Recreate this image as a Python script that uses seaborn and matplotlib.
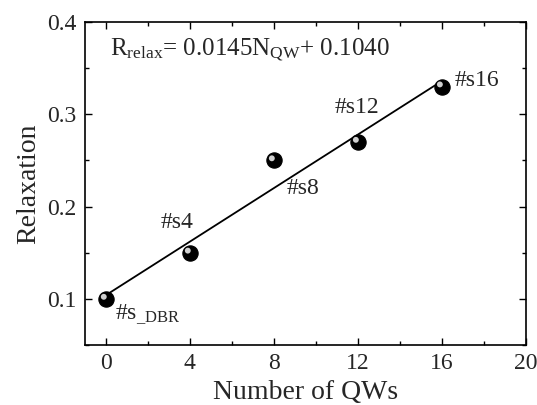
import matplotlib
matplotlib.use("Agg")
import matplotlib.pyplot as plt
import matplotlib.transforms as mtransforms
from matplotlib.ticker import MultipleLocator
import numpy as np
import pandas as pd
import seaborn as sns

# data
n_qw = [0, 4, 8, 12, 16]
relax = [0.10, 0.15, 0.25, 0.27, 0.33]
slope = 0.0145
intercept = 0.1040

sns.set_style("ticks")
plt.rcParams['font.family'] = ['Liberation Serif', 'DejaVu Serif']
plt.rcParams['mathtext.fontset'] = 'custom'
plt.rcParams['mathtext.rm'] = 'Liberation Serif'
plt.rcParams['mathtext.it'] = 'Liberation Serif'

df = pd.DataFrame({'N': n_qw, 'R': relax})

fig = plt.figure(figsize=(5.37, 4.05), dpi=100)
ax = fig.add_axes([0.158, 0.148, 0.8215, 0.798])

# linear fit line
fit_x = np.array([n_qw[0], n_qw[-1]])
sns.lineplot(x=fit_x, y=slope * fit_x + intercept, color='black', lw=1.3, ax=ax)

# sphere-like markers: black ball + small highlight
sns.scatterplot(data=df, x='N', y='R', s=120, color='black', edgecolor='black', ax=ax, zorder=3)
hl = mtransforms.offset_copy(ax.transData, fig=fig, x=-1.5, y=1.5, units='points')
ax.scatter(df['N'], df['R'], s=18, color='#d0d0d0', edgecolor='none', transform=hl, zorder=4)

# sample labels
ax.text(16.6, 0.337, '#s16', fontsize=17, va='center')
ax.text(10.9, 0.307, '#s12', fontsize=17, va='center')
ax.text(8.6, 0.220, '#s8', fontsize=17, va='center')
ax.text(2.6, 0.183, '#s4', fontsize=17, va='center')
ax.text(0.43, 0.084, r'#s$_{\_\mathrm{DBR}}$', fontsize=17, va='center')

ax.text(0.19, 0.370, r'R$_{\mathrm{relax}}$= 0.0145N$_{\mathrm{QW}}$+ 0.1040', fontsize=18, va='center')

ax.set_xlim(-1, 20)
ax.set_ylim(0.05, 0.4)
ax.xaxis.set_minor_locator(MultipleLocator(2))
ax.yaxis.set_minor_locator(MultipleLocator(0.05))
ax.set_xticks([0, 4, 8, 12, 16, 20])
ax.set_yticks([0.1, 0.2, 0.3, 0.4])
ax.set_yticklabels(['0.1', '0.2', '0.3', '0.4'])

ax.tick_params(which='both', direction='in', top=True, right=True, labeltop=False, labelright=False,
               labelsize=17, color='black', width=1)
ax.tick_params(which='major', length=5, pad=6)
ax.tick_params(which='minor', length=3)
for sp in ax.spines.values():
    sp.set_linewidth(1.2)
    sp.set_color('black')

ax.set_xlabel('Number of QWs', fontsize=20)
ax.set_ylabel('Relaxation', fontsize=20)

fig.savefig('out.png', dpi=100)
